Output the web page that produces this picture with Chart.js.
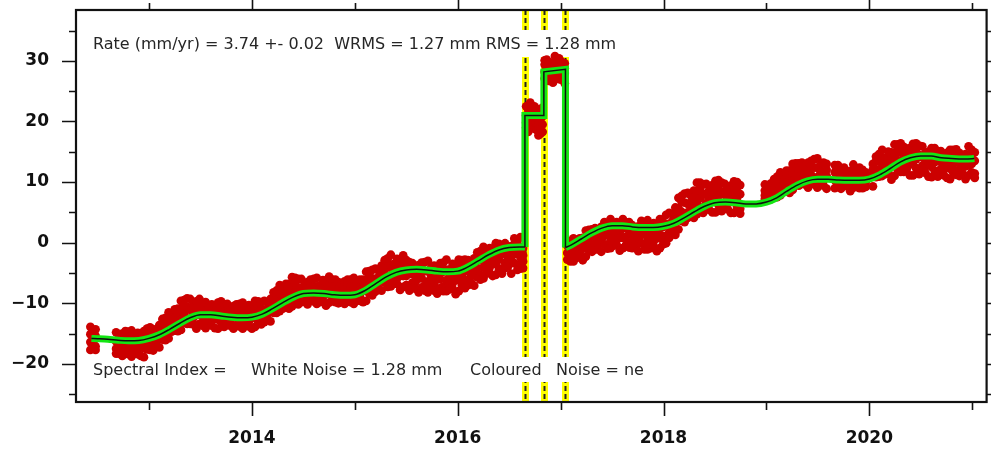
<!DOCTYPE html>
<html>
<head>
<meta charset="utf-8">
<script src="https://cdn.jsdelivr.net/npm/chart.js@4/dist/chart.umd.min.js"></script>
<style>
  html, body { margin: 0; padding: 0; background: #fff; }
  #wrap { width: 991px; height: 449px; position: relative; }
</style>
</head>
<body>
<div id="wrap"><canvas id="ts"></canvas></div>
<script>
// North component, daily solutions grouped per ~11-day bin (decimal year, mm)
const obsEpochs = [
  2012.43, 2012.455, 2012.48, 2012.68, 2012.71, 2012.74, 2012.77, 2012.80, 2012.83, 2012.86, 2012.89, 2012.92, 2012.95, 2012.98,
  2013.01, 2013.04, 2013.07, 2013.10, 2013.13, 2013.16, 2013.19, 2013.22, 2013.25, 2013.28, 2013.31, 2013.34, 2013.37, 2013.40, 2013.43, 2013.46, 2013.49,
  2013.52, 2013.55, 2013.58, 2013.61, 2013.64, 2013.67, 2013.70, 2013.73, 2013.76, 2013.79, 2013.82, 2013.85, 2013.88, 2013.91, 2013.94, 2013.97,
  2014.00, 2014.03, 2014.06, 2014.09, 2014.12, 2014.15, 2014.18, 2014.21, 2014.24, 2014.27, 2014.30, 2014.33, 2014.36, 2014.39, 2014.42, 2014.45, 2014.48,
  2014.51, 2014.54, 2014.57, 2014.60, 2014.63, 2014.66, 2014.69, 2014.72, 2014.75, 2014.78, 2014.81, 2014.84, 2014.87, 2014.90, 2014.93, 2014.96, 2014.99,
  2015.02, 2015.05, 2015.08, 2015.11, 2015.14, 2015.17, 2015.20, 2015.23, 2015.26, 2015.29, 2015.32, 2015.35, 2015.38, 2015.41, 2015.44, 2015.47,
  2015.50, 2015.53, 2015.56, 2015.59, 2015.62, 2015.65, 2015.68, 2015.71, 2015.74, 2015.77, 2015.80, 2015.83, 2015.86, 2015.89, 2015.92, 2015.95, 2015.98,
  2016.01, 2016.04, 2016.07, 2016.10, 2016.13, 2016.16, 2016.19, 2016.22, 2016.25, 2016.28, 2016.31, 2016.34, 2016.37, 2016.40, 2016.43, 2016.46, 2016.49,
  2016.52, 2016.55, 2016.58, 2016.61, 2016.635,
  2016.665, 2016.685, 2016.705, 2016.725, 2016.745, 2016.765, 2016.785, 2016.805, 2016.825,
  2016.845, 2016.865, 2016.885, 2016.905, 2016.925, 2016.945, 2016.965, 2016.985, 2017.005, 2017.025, 2017.04,
  2017.065, 2017.095, 2017.125, 2017.155, 2017.185, 2017.215, 2017.245, 2017.275, 2017.305, 2017.335, 2017.365, 2017.395, 2017.425, 2017.455, 2017.485,
  2017.515, 2017.545, 2017.575, 2017.605, 2017.635, 2017.665, 2017.695, 2017.725, 2017.755, 2017.785, 2017.815, 2017.845, 2017.875, 2017.905, 2017.935, 2017.965, 2017.995,
  2018.025, 2018.055, 2018.085, 2018.115, 2018.145, 2018.175, 2018.205, 2018.235, 2018.265, 2018.295, 2018.325, 2018.355, 2018.385,
  2018.415, 2018.445, 2018.475, 2018.505, 2018.535, 2018.565, 2018.595, 2018.625, 2018.655, 2018.685, 2018.715, 2018.745,
  2018.985, 2019.015, 2019.045, 2019.075, 2019.105, 2019.135, 2019.165, 2019.195, 2019.225, 2019.255, 2019.285, 2019.315, 2019.345,
  2019.375, 2019.405, 2019.435, 2019.465, 2019.495, 2019.525, 2019.555, 2019.585,
  2019.665, 2019.695, 2019.725, 2019.755, 2019.785, 2019.815, 2019.845, 2019.875, 2019.905, 2019.935, 2019.965,
  2020.035, 2020.065, 2020.095, 2020.125, 2020.155, 2020.185, 2020.215, 2020.245, 2020.275, 2020.305, 2020.335, 2020.365, 2020.395, 2020.425, 2020.455, 2020.485,
  2020.515, 2020.545, 2020.575, 2020.605, 2020.635, 2020.665, 2020.695, 2020.725, 2020.755, 2020.785, 2020.815, 2020.845, 2020.875, 2020.905, 2020.935, 2020.965,
  2020.995, 2021.025
];
const obsNorth = [
  [-13.9,-15.1,-16.4,-17.7],[-14.4,-15.1,-16.3,-17.4],[-14.3,-15.4,-17.1,-17.7],
  [-14.8,-16.3,-17.5,-18.3],[-15.6,-16.7,-17.5,-18.3],[-15.0,-15.9,-16.8,-18.7],[-14.6,-15.4,-16.7,-18.0],[-14.7,-15.9,-17.8,-18.4],
  [-14.5,-15.9,-17.3,-18.8],[-15.2,-16.3,-17.1,-17.9],[-14.9,-16.4,-17.6,-18.4],[-15.0,-15.9,-16.8,-18.7],[-14.6,-16.0,-17.4,-18.9],[-14.2,-15.0,-16.3,-17.6],
  [-14.0,-15.2,-17.1,-17.7],[-14.3,-15.8,-17.0,-17.8],[-14.3,-15.4,-16.2,-17.0],[-13.6,-14.5,-15.4,-17.3],[-12.6,-13.4,-14.7,-16.0],[-12.4,-13.6,-15.5,-16.1],
  [-11.5,-12.9,-14.3,-15.8],[-12.0,-13.1,-13.9,-14.7],[-11.0,-12.5,-13.7,-14.5],[-10.9,-11.8,-12.7,-14.6],[-9.6,-11.1,-12.7,-14.4],[-9.5,-10.3,-11.8,-13.2],
  [-9.2,-10.6,-12.7,-13.4],[-9.3,-11.1,-12.5,-13.4],[-10.2,-11.4,-12.4,-13.5],[-9.7,-10.8,-11.9,-14.2],[-9.3,-10.2,-11.9,-13.4],
  [-10.0,-11.2,-13.1,-13.7],[-9.8,-11.2,-12.6,-14.1],[-10.6,-11.7,-12.5,-13.3],[-10.2,-11.7,-12.9,-13.7],[-10.4,-11.3,-12.2,-14.1],[-9.9,-11.3,-12.7,-14.2],
  [-9.7,-10.5,-11.8,-13.1],[-10.2,-11.4,-13.3,-13.9],[-10.1,-11.6,-12.8,-13.6],[-11.0,-12.1,-12.9,-13.7],[-10.5,-11.4,-12.3,-14.2],[-10.2,-11.0,-12.3,-13.6],
  [-10.1,-11.3,-13.2,-13.8],[-9.9,-11.3,-12.7,-14.2],[-10.7,-11.8,-12.6,-13.4],[-10.3,-11.8,-13.0,-13.8],
  [-10.5,-11.4,-12.3,-14.2],[-9.6,-11.0,-12.4,-13.9],[-9.7,-10.5,-11.8,-13.1],[-9.8,-11.0,-12.9,-13.5],[-9.6,-11.1,-12.3,-13.1],[-9.9,-11.0,-11.8,-12.6],
  [-9.3,-10.2,-11.1,-13.0],[-8.2,-9.0,-10.3,-11.6],[-7.9,-9.1,-11.0,-11.6],[-7.0,-8.4,-9.8,-11.3],[-7.9,-9.0,-9.9,-10.9],[-6.8,-8.5,-9.7,-10.6],
  [-6.8,-7.8,-8.8,-10.9],[-5.7,-7.2,-8.8,-10.5],[-5.8,-6.6,-8.1,-9.5],[-6.0,-7.4,-9.5,-10.2],[-6.0,-7.7,-8.9,-9.8],
  [-6.9,-8.0,-8.8,-9.6],[-6.5,-7.4,-8.3,-10.2],[-6.1,-6.9,-8.2,-9.5],[-6.0,-7.2,-9.1,-9.7],[-5.8,-7.2,-8.6,-10.1],[-7.1,-8.2,-9.0,-9.8],
  [-6.2,-7.7,-8.9,-9.7],[-6.7,-7.6,-8.5,-10.4],[-5.6,-7.0,-8.4,-9.9],[-6.1,-6.9,-8.2,-9.5],[-6.1,-7.3,-9.2,-9.8],[-6.5,-8.0,-9.2,-10.0],
  [-6.9,-8.0,-8.8,-9.6],[-6.4,-7.3,-8.2,-10.1],[-6.1,-6.9,-8.2,-9.5],[-6.1,-7.3,-9.2,-9.8],[-5.8,-7.2,-8.6,-10.1],
  [-6.7,-7.8,-8.6,-9.4],[-6.1,-7.6,-8.8,-9.6],[-6.1,-7.0,-7.9,-9.8],[-4.8,-6.3,-7.9,-9.6],[-4.7,-5.5,-7.0,-8.4],[-4.5,-5.9,-8.0,-8.7],
  [-4.3,-6.0,-7.2,-8.1],[-4.6,-5.7,-6.6,-7.6],[-3.8,-4.8,-5.8,-7.9],[-2.9,-3.7,-5.2,-6.6],[-2.6,-4.1,-6.5,-7.3],[-2.0,-3.7,-5.4,-7.2],
  [-3.5,-4.7,-5.7,-6.8],[-2.7,-4.5,-5.9,-6.8],[-3.3,-4.4,-5.5,-7.8],[-2.1,-3.8,-5.5,-7.3],
  [-2.9,-3.8,-5.5,-7.0],[-3.2,-4.7,-7.1,-7.9],[-3.4,-5.2,-6.6,-7.5],[-4.3,-5.5,-6.5,-7.6],[-3.7,-4.8,-5.9,-8.2],[-3.3,-4.2,-5.9,-7.4],
  [-3.2,-4.7,-7.1,-7.9],[-3.0,-4.7,-6.4,-8.2],[-4.2,-5.4,-6.4,-7.5],[-3.8,-5.6,-7.0,-7.9],[-3.9,-5.0,-6.1,-8.4],[-3.4,-4.3,-6.0,-7.5],
  [-3.3,-4.8,-7.2,-8.0],[-2.8,-4.5,-6.2,-8.0],[-4.4,-5.6,-6.6,-7.7],[-3.5,-5.3,-6.7,-7.6],[-4.0,-5.1,-6.2,-8.5],
  [-2.8,-4.5,-6.2,-8.0],[-2.9,-3.8,-5.5,-7.0],[-2.8,-4.3,-6.7,-7.5],[-2.9,-4.7,-6.1,-7.0],[-3.3,-4.5,-5.5,-6.6],[-2.6,-3.7,-4.8,-7.1],
  [-1.6,-2.5,-4.2,-5.7],[-1.4,-2.9,-5.3,-6.1],[-0.7,-2.4,-4.1,-5.9],[-1.8,-3.0,-4.0,-5.1],[-0.9,-2.7,-4.1,-5.0],[-1.0,-2.1,-3.2,-5.5],
  [-0.1,-1.8,-3.5,-5.3],[-0.2,-1.1,-2.8,-4.3],[-0.4,-1.9,-4.3,-5.1],[-0.1,-1.9,-3.3,-4.2],[-0.6,-1.8,-2.8,-3.9],
  [-0.6,-1.7,-2.8,-5.1],[0.7,-0.2,-1.9,-3.4],[0.2,-1.3,-3.7,-4.5],[0.9,-0.8,-2.5,-4.3],[-0.9,-2.1,-3.1,-4.2],
  [22.5,21.0,19.8,19.0],[22.0,21.1,20.2,18.3],[23.1,21.7,20.3,18.8],[22.5,21.7,20.4,19.1],[22.5,21.3,19.4,18.8],
  [22.1,20.6,19.4,18.6],[21.3,20.2,19.4,17.7],[21.7,20.8,19.9,18.0],[22.3,20.9,19.5,18.3],
  [30.1,29.4,28.2,27.1],[30.2,29.1,27.4,26.8],[29.7,28.4,27.4,26.7],[29.7,28.8,28.1,27.3],[29.7,28.9,28.1,26.4],[30.8,29.6,28.3,27.0],
  [30.3,29.6,28.4,27.3],[30.4,29.3,27.6,27.0],[29.9,28.6,27.6,26.9],[29.6,28.7,28.0,27.2],[29.6,28.8,28.0,26.3],
  [0.2,-0.5,-1.7,-2.8],[0.3,-0.8,-2.5,-3.1],[0.7,-0.5,-1.8,-3.1],[-0.1,-1.0,-1.7,-2.5],[0.7,-0.6,-1.6,-2.3],
  [0.8,-0.1,-1.0,-2.9],[2.0,0.6,-0.8,-2.3],[2.1,1.3,0.0,-1.3],[2.2,1.0,-0.9,-1.5],[2.4,0.9,-0.3,-1.1],
  [1.9,0.8,-0.1,-1.1],[2.6,1.6,0.6,-1.5],[3.4,2.6,1.1,-0.3],[3.2,1.8,-0.3,-1.0],[3.9,2.4,0.8,-0.9],
  [2.5,1.4,0.5,-0.5],[3.4,1.7,0.5,-0.4],[2.8,1.8,0.8,-1.3],[3.9,2.4,0.8,-0.9],[3.3,2.5,1.0,-0.4],[3.4,2.0,-0.1,-0.8],
  [2.9,1.2,0.0,-0.9],[2.5,1.4,0.5,-0.5],[2.7,1.7,0.7,-1.4],[3.6,2.8,1.3,-0.1],[3.1,1.7,-0.4,-1.1],[3.7,2.2,0.6,-1.1],
  [2.1,1.0,0.1,-0.9],[3.2,1.5,0.3,-0.6],[2.7,1.7,0.7,-1.4],[3.9,2.4,0.8,-0.9],[3.4,2.6,1.1,-0.3],
  [4.6,3.1,0.7,-0.1],[4.9,3.1,1.7,0.8],[4.7,3.5,2.5,1.4],[5.8,4.7,3.6,1.3],[7.4,5.7,4.0,2.2],[7.7,6.8,5.1,3.6],
  [8.1,6.6,4.2,3.4],[8.2,6.4,5.0,4.1],[7.8,6.6,5.6,4.5],[8.6,7.5,6.4,4.1],[9.9,8.2,6.5,4.7],[9.9,9.0,7.3,5.8],[9.6,8.1,5.7,4.9],
  [9.7,7.9,6.5,5.6],[8.7,7.5,6.5,5.4],[9.5,8.4,7.3,5.0],[10.2,8.5,6.8,5.0],[10.3,9.4,7.7,6.2],[9.9,8.4,6.0,5.2],
  [9.7,7.9,6.5,5.6],[8.8,7.6,6.6,5.5],[9.4,8.3,7.2,4.9],[10.1,8.4,6.7,4.9],[10.0,9.1,7.4,5.9],[9.5,8.0,5.6,4.8],
  [9.6,8.6,7.8,7.2],[9.4,8.7,8.1,7.5],[9.8,9.2,8.6,7.2],[10.5,10.0,9.0,8.1],[10.9,9.8,8.1,7.5],[11.6,10.4,9.1,7.8],
  [11.0,10.1,9.4,8.6],[11.9,10.6,9.6,8.9],[11.9,11.0,10.1,8.2],[13.0,11.6,10.2,8.7],[13.1,12.3,11.0,9.7],[13.1,11.9,10.0,9.4],[13.2,11.7,10.5,9.7],
  [12.6,11.5,10.6,9.6],[13.2,12.2,11.2,9.1],[13.5,12.7,11.2,9.8],[13.8,12.4,10.3,9.6],[13.9,12.4,10.8,9.1],[12.8,11.7,10.8,9.8],
  [13.2,11.5,10.3,9.4],[13.0,12.0,11.0,8.9],
  [12.8,11.6,10.3,9.0],[12.8,12.1,10.9,9.8],[12.3,11.2,9.5,8.9],[12.4,11.1,10.1,9.4],[11.7,10.8,10.1,9.3],[11.8,11.0,10.2,8.5],
  [12.9,11.7,10.4,9.1],[12.2,11.5,10.3,9.2],[12.4,11.3,9.6,9.0],[12.0,10.7,9.7,9.0],[11.6,10.7,10.0,9.2],
  [13.0,12.1,11.2,9.3],[14.2,13.4,12.1,10.8],[14.6,13.4,11.5,10.9],[15.3,13.9,12.5,11.0],[14.0,12.9,12.1,11.3],[15.0,13.5,12.3,11.5],
  [14.9,13.8,12.7,10.4],[16.2,14.5,12.8,11.0],[16.2,15.3,13.6,12.1],[16.4,14.9,12.5,11.7],[15.8,14.0,12.6,11.7],[15.5,14.3,13.3,12.2],
  [15.6,14.5,13.4,11.1],[16.3,14.6,12.9,11.1],[16.4,15.5,13.8,12.3],[16.0,14.5,12.1,11.3],
  [15.9,14.1,12.7,11.8],[14.8,13.6,12.6,11.5],[15.0,14.0,13.0,10.9],[15.6,14.1,12.5,10.8],[15.6,14.8,13.3,11.9],[15.1,13.7,11.6,10.9],
  [15.1,13.4,12.2,11.3],[14.1,13.0,12.1,11.1],[14.8,13.8,12.8,10.7],[15.3,13.8,12.2,10.5],[15.3,14.5,13.0,11.6],[15.4,14.0,11.9,11.2],
  [14.8,13.1,11.9,11.0],[14.4,13.3,12.4,11.4],[14.6,13.6,12.6,10.5],[15.9,14.4,12.8,11.1],
  [15.3,14.5,13.0,11.6],[14.9,13.5,11.4,10.7]
];

// Fitted model: linear rate + annual terms, with offsets at equipment changes
const trendEpochsEarly = [2012.44, 2012.5, 2012.6, 2012.7, 2012.8, 2012.9,
  2013.0, 2013.1, 2013.2, 2013.3, 2013.4, 2013.5, 2013.6, 2013.7, 2013.8, 2013.9,
  2014.0, 2014.1, 2014.2, 2014.3, 2014.4, 2014.5, 2014.6, 2014.7, 2014.8, 2014.9,
  2015.0, 2015.1, 2015.2, 2015.3, 2015.4, 2015.5, 2015.6, 2015.7, 2015.8, 2015.9,
  2016.0, 2016.1, 2016.2, 2016.3, 2016.4, 2016.5, 2016.6, 2016.653];
const trendNorthEarly = [-15.8, -15.85, -15.95, -16.1, -16.2, -16.15,
  -15.8, -15.2, -14.3, -13.3, -12.4, -11.9, -11.9, -12.1, -12.3, -12.4,
  -12.3, -11.8, -10.9, -9.9, -9.0, -8.4, -8.3, -8.4, -8.6, -8.7,
  -8.6, -7.9, -6.8, -5.7, -4.9, -4.5, -4.4, -4.5, -4.7, -4.8,
  -4.7, -4.0, -3.0, -2.0, -1.2, -0.8, -0.7, -0.7];
const trendEpochsJump = [2016.653, 2016.653, 2016.837, 2016.837, 2017.047, 2017.047];
const trendNorthJump = [-0.7, 21.0, 21.0, 28.2, 28.6, -0.8];
const trendEpochsLate = [2017.047, 2017.1, 2017.2, 2017.3, 2017.4, 2017.5, 2017.6, 2017.7, 2017.8, 2017.9,
  2018.0, 2018.1, 2018.2, 2018.3, 2018.4, 2018.5, 2018.6, 2018.7, 2018.8, 2018.9,
  2019.0, 2019.1, 2019.2, 2019.3, 2019.4, 2019.5, 2019.6, 2019.7, 2019.8, 2019.9,
  2020.0, 2020.1, 2020.2, 2020.3, 2020.4, 2020.5, 2020.6, 2020.7, 2020.8, 2020.9,
  2021.0, 2021.02];
const trendNorthLate = [-0.8, -0.4, 0.6, 1.6, 2.4, 2.8, 2.8, 2.6, 2.5, 2.5,
  2.7, 3.2, 4.1, 5.1, 6.0, 6.6, 6.7, 6.6, 6.4, 6.4,
  6.7, 7.4, 8.5, 9.5, 10.2, 10.45, 10.45, 10.35, 10.3, 10.3,
  10.5, 11.2, 12.2, 13.3, 14.0, 14.3, 14.3, 14.0, 13.9, 13.8,
  13.85, 13.9];

// Offset epochs (equipment changes)
const offsetEpochs = [2016.653, 2016.837, 2017.047];

// Axis labels
const xLabelYears = [2014, 2016, 2018, 2020];
const yLabelValues = [30, 20, 10, 0, -10, -20];

// Statistics annotations
const statsLine = 'Rate (mm/yr) = 3.74 +- 0.02  WRMS = 1.27 mm RMS = 1.28 mm';
const noiseParts = ['Spectral Index =', 'White Noise = 1.28 mm', 'Coloured', 'Noise = ne'];

const RED = '#cc0000';
const GREEN = '#14e614';
const TEXT_FONT = '16px "DejaVu Sans"';
const TICK_FONT = { family: 'DejaVu Sans', size: 17, weight: 'bold' };

const toXY = (xs, ys) => xs.map((t, i) => ({ x: t, y: ys[i] }));
const obsPoints = obsEpochs.flatMap((t, i) => obsNorth[i].map(v => ({ x: t, y: v })));

function trendPair(xs, ys, smooth) {
  const base = { type: 'line', pointRadius: 0, fill: false, borderCapStyle: 'butt', borderJoinStyle: 'miter' };
  if (smooth) base.cubicInterpolationMode = 'monotone'; else base.tension = 0;
  return [
    Object.assign({}, base, { data: toXY(xs, ys), borderColor: GREEN, borderWidth: 7, order: 2 }),
    Object.assign({}, base, { data: toXY(xs, ys), borderColor: '#101010', borderWidth: 1.5, order: 1 })
  ];
}

function noPadding(s) {
  s.paddingTop = 0; s.paddingBottom = 0; s.paddingLeft = 0; s.paddingRight = 0;
}

const decorations = {
  id: 'decorations',
  beforeDatasetsDraw(chart) {
    const { ctx, chartArea: a, scales: { x } } = chart;
    ctx.save();
    // offset markers: yellow band with black dashes
    offsetEpochs.forEach(t => {
      const px = Math.round(x.getPixelForValue(t)) + 0.5;
      ctx.setLineDash([]);
      ctx.strokeStyle = '#ffff00';
      ctx.lineWidth = 7;
      ctx.beginPath(); ctx.moveTo(px, a.top); ctx.lineTo(px, a.bottom); ctx.stroke();
      ctx.setLineDash([5, 3]);
      ctx.strokeStyle = '#222';
      ctx.lineWidth = 2;
      ctx.beginPath(); ctx.moveTo(px, a.top); ctx.lineTo(px, a.bottom); ctx.stroke();
    });
    ctx.setLineDash([]);
    // annotation panels
    ctx.fillStyle = '#ffffff';
    ctx.fillRect(a.left + 12, a.top + 20, 548, 27);
    ctx.fillRect(a.left + 12, a.bottom - 45, 575, 25);
    ctx.fillStyle = '#262626';
    ctx.font = TEXT_FONT;
    ctx.textBaseline = 'middle';
    ctx.textAlign = 'left';
    ctx.fillText(statsLine, a.left + 17, a.top + 35);
    const noiseX = [17, 175, 394, 480];
    noiseParts.forEach((s, i) => ctx.fillText(s, a.left + noiseX[i], a.bottom - 31));
    ctx.restore();
  },
  afterDraw(chart) {
    const { ctx, chartArea: a, scales: { x, y } } = chart;
    ctx.save();
    ctx.strokeStyle = '#111';
    ctx.lineWidth = 1.6;
    x.ticks.forEach(tk => {
      const px = Math.round(x.getPixelForValue(tk.value)) + 0.5;
      const major = xLabelYears.includes(tk.value);
      ctx.beginPath();
      ctx.moveTo(px, a.bottom); ctx.lineTo(px, a.bottom + (major ? 14 : 8));
      ctx.moveTo(px, a.top); ctx.lineTo(px, a.top - (major ? 11 : 7));
      ctx.stroke();
    });
    y.ticks.forEach(tk => {
      const py = Math.round(y.getPixelForValue(tk.value)) + 0.5;
      const major = yLabelValues.includes(tk.value);
      ctx.beginPath();
      ctx.moveTo(a.left, py); ctx.lineTo(a.left - (major ? 14 : 7), py);
      ctx.moveTo(a.right, py); ctx.lineTo(a.right + (major ? 14 : 7), py);
      ctx.stroke();
    });
    ctx.lineWidth = 2.2;
    ctx.strokeRect(a.left, a.top, a.right - a.left, a.bottom - a.top);
    ctx.restore();
  }
};

const datasets = [
  { type: 'scatter', data: obsPoints, backgroundColor: RED, borderWidth: 0, pointRadius: 4.4, order: 3 },
  ...trendPair(trendEpochsEarly, trendNorthEarly, true),
  ...trendPair(trendEpochsJump, trendNorthJump, false),
  ...trendPair(trendEpochsLate, trendNorthLate, true)
];

new Chart(document.getElementById('ts'), {
  type: 'scatter',
  data: { datasets },
  options: {
    responsive: true,
    maintainAspectRatio: false,
    animation: false,
    events: [],
    layout: { padding: { top: 10, right: 2, left: 0, bottom: 0 } },
    plugins: { legend: { display: false }, tooltip: { enabled: false } },
    scales: {
      x: {
        type: 'linear', min: 2012.29, max: 2021.14,
        afterFit: s => { s.height = 47; noPadding(s); },
        grid: { display: false, drawTicks: false },
        border: { display: false },
        ticks: {
          stepSize: 1, includeBounds: false, autoSkip: false, maxRotation: 0, padding: 26,
          color: '#111', font: TICK_FONT,
          callback: v => xLabelYears.includes(v) ? String(v) : ''
        }
      },
      y: {
        min: -26.3, max: 38.4,
        afterFit: s => { s.width = 76; noPadding(s); },
        grid: { display: false, drawTicks: false },
        border: { display: false },
        ticks: {
          stepSize: 5, includeBounds: false, autoSkip: false, padding: 27,
          color: '#111', font: TICK_FONT,
          callback: v => yLabelValues.includes(v) ? (v < 0 ? '\u2212' + Math.abs(v) : String(v)) : ''
        }
      }
    }
  },
  plugins: [decorations]
});
</script>
</body>
</html>
